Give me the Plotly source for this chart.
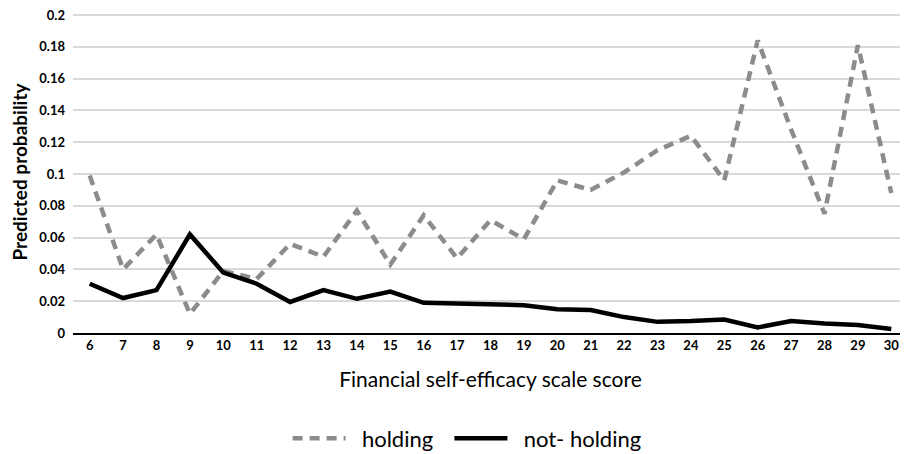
import plotly.graph_objects as go

# Financial self-efficacy scale scores (x categories)
scores = [str(s) for s in range(6, 31)]

# Predicted probability
holding = [0.099, 0.040, 0.062, 0.012, 0.039, 0.034, 0.056, 0.048, 0.077, 0.043,
           0.074, 0.047, 0.071, 0.059, 0.096, 0.090, 0.101, 0.115, 0.124, 0.096,
           0.184, 0.128, 0.075, 0.181, 0.088]
not_holding = [0.031, 0.022, 0.027, 0.062, 0.038, 0.031, 0.0195, 0.027, 0.0215, 0.026,
               0.019, 0.0185, 0.0185, 0.0175, 0.015, 0.0145, 0.010, 0.007, 0.0075, 0.0085,
               0.0035, 0.0075, 0.006, 0.005, 0.0025]

y_ticks = [0, 0.02, 0.04, 0.06, 0.08, 0.1, 0.12, 0.14, 0.16, 0.18, 0.2]
y_labels = ['0', '0.02', '0.04', '0.06', '0.08', '0.1', '0.12', '0.14', '0.16', '0.18', '0.2']

font_family = 'Lato, "Open Sans", sans-serif'
pad = '\u00a0\u00a0'  # extra room between legend symbol and text

fig = go.Figure()

# holding (grey dashed)
fig.add_trace(go.Scatter(
    x=scores,
    y=holding,
    mode='lines',
    name=pad + 'holding' + pad,
    line=dict(color='#8c8c8c', width=4.5, dash='10px,7px'),
))

# not holding (black solid)
fig.add_trace(go.Scatter(
    x=scores,
    y=not_holding,
    mode='lines',
    name=pad + 'not- holding',
    line=dict(color='#000000', width=4.5),
))

# page body has an 8px margin, so the figure is sized 8px smaller
fig.update_layout(
    width=900,
    height=446,
    margin=dict(l=65, r=0, t=3, b=121, autoexpand=False),
    plot_bgcolor='white',
    paper_bgcolor='white',
    font=dict(family=font_family, color='#000000'),
    showlegend=True,
    legend=dict(
        orientation='h',
        x=0.472,
        xanchor='center',
        y=-0.262,
        yanchor='top',
        font=dict(size=22, family=font_family),
        itemwidth=53,
    ),
    xaxis=dict(
        type='category',
        range=[-0.5, 24.5],
        automargin=False,
        showgrid=False,
        showline=True,
        linecolor='#000000',
        linewidth=1.5,
        ticks='',
        tickfont=dict(size=13, family=font_family, weight='bold'),
        title=dict(text='Financial self-efficacy scale score',
                   font=dict(size=21, family=font_family), standoff=20),
    ),
    yaxis=dict(
        range=[0, 0.2025],
        automargin=False,
        tickvals=y_ticks,
        ticktext=y_labels,
        ticklabeloverflow='allow',
        showgrid=True,
        gridcolor='#d9d9d9',
        gridwidth=1.5,
        zeroline=False,
        showline=False,
        ticks='',
        ticklabelstandoff=7,
        tickfont=dict(size=13, family=font_family, weight='bold'),
        title=dict(text='Predicted probability',
                   font=dict(size=19, family=font_family, weight='bold'), standoff=8),
    ),
)

fig.write_html("out.html")
